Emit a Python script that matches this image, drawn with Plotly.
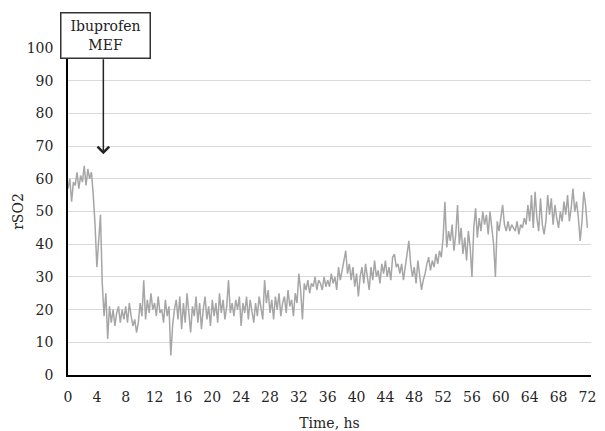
import plotly.graph_objects as go

# rSO2 readings every 15 minutes (hours 0..72)
hours_step = 0.25
rso2 = [
    57, 60, 53, 59,   # 0
    58, 62, 57, 61,   # 1
    59, 64, 58, 63,   # 2
    60, 62, 55, 46,   # 3
    33, 42, 49, 28,   # 4
    18, 25, 11, 21,   # 5
    16, 20, 15, 19,   # 6
    21, 16, 20, 17,   # 7
    21, 16, 22, 18,   # 8
    15, 17, 13, 16,   # 9
    22, 18, 29, 17,   # 10
    23, 19, 25, 20,   # 11
    22, 18, 24, 19,   # 12
    20, 16, 23, 18,   # 13
    21, 6, 15, 20,    # 14
    23, 17, 24, 14,   # 15
    22, 16, 25, 19,   # 16
    13, 21, 18, 24,   # 17
    16, 22, 14, 20,   # 18
    24, 17, 21, 15,   # 19
    23, 18, 22, 16,   # 20
    25, 19, 23, 17,   # 21
    21, 29, 19, 22,   # 22
    18, 23, 20, 24,   # 23
    15, 22, 19, 24,   # 24
    17, 23, 20, 16,   # 25
    22, 18, 24, 20,   # 26
    17, 29, 22, 26,   # 27
    19, 23, 17, 24,   # 28
    20, 25, 18, 22,   # 29
    24, 19, 26, 21,   # 30
    23, 18, 25, 22,   # 31
    31, 26, 17, 28,   # 32
    26, 29, 25, 28,   # 33
    27, 30, 26, 29,   # 34
    28, 26, 30, 27,   # 35
    29, 27, 31, 28,   # 36
    30, 26, 33, 29,   # 37
    32, 36, 38, 31,   # 38
    34, 29, 33, 27,   # 39
    31, 24, 30, 33,   # 40
    28, 34, 30, 26,   # 41
    33, 29, 35, 30,   # 42
    32, 28, 34, 31,   # 43
    35, 30, 33, 29,   # 44
    36, 37, 33, 34,   # 45
    31, 34, 29, 33,   # 46
    36, 41, 34, 30,   # 47
    33, 28, 35, 30,   # 48
    26, 29, 31, 34,   # 49
    36, 32, 35, 33,   # 50
    37, 34, 38, 36,   # 51
    42, 53, 39, 44,   # 52
    41, 46, 38, 43,   # 53
    52, 40, 45, 37,   # 54
    42, 35, 44, 39,   # 55
    30, 45, 51, 42,   # 56
    48, 44, 50, 46,   # 57
    49, 43, 50, 45,   # 58
    40, 30, 47, 44,   # 59
    48, 52, 46, 44,   # 60
    47, 44, 46, 45,   # 61
    44, 47, 43, 46,   # 62
    45, 48, 46, 52,   # 63
    47, 55, 45, 56,   # 64
    48, 44, 54, 46,   # 65
    43, 47, 55, 49,   # 66
    54, 46, 52, 48,   # 67
    45, 50, 47, 53,   # 68
    49, 55, 47, 51,   # 69
    57, 50, 53, 48,   # 70
    41, 47, 56, 52,   # 71
    45,               # 72
]
time_h = [i * hours_step for i in range(len(rso2))]

x_ticks = list(range(0, 73, 4))
y_ticks = list(range(0, 101, 10))

event_label = "Ibuprofen<br>MEF"
event_time = 4.9

FONT = "DejaVu Serif"

fig = go.Figure()
fig.add_trace(go.Scatter(
    x=time_h, y=rso2, mode="lines",
    line=dict(color="#a6a6a6", width=1.5),
    hoverinfo="skip", showlegend=False,
))

# page body adds an 8px offset, so the figure is 8px smaller each way
W, H = 597, 423
ML, MR, MT, MB = 60, 14, 40, 56
fig.update_layout(
    width=W, height=H,
    margin=dict(l=ML, r=MR, t=MT, b=MB),
    paper_bgcolor="white", plot_bgcolor="white",
    font=dict(family=FONT, size=14, color="#262626"),
    showlegend=False,
)
fig.update_xaxes(
    range=[0, 72.5], tickmode="array", tickvals=x_ticks,
    ticktext=[str(v) for v in x_ticks],
    showgrid=False, zeroline=False, automargin=False,
    ticklabeloverflow="allow",
    showline=True, linecolor="black", linewidth=1.5,
    ticks="outside", ticklen=8, tickcolor="rgba(0,0,0,0)",
    title=dict(text="Time, hs", standoff=15, font=dict(size=14)),
)
fig.update_yaxes(
    range=[0, 100], tickmode="array", tickvals=y_ticks,
    showgrid=True, gridcolor="#d9d9d9", gridwidth=1,
    zeroline=False, showline=True, linecolor="black", linewidth=1.5,
    automargin=False,
    ticks="outside", ticklen=10, tickcolor="rgba(0,0,0,0)",
    title=dict(text="rSO2", standoff=0, font=dict(size=14)),
)

# arrow from box down to the event time
fig.add_annotation(
    x=event_time, y=67.5, ax=event_time, ay=97,
    xref="x", yref="y", axref="x", ayref="y",
    text="", showarrow=True, arrowhead=4, arrowsize=1.5,
    arrowwidth=1.5, arrowcolor="#222222",
)
# label box
pw = W - ML - MR
ph = H - MT - MB
fig.add_annotation(
    x=(97 - ML) / pw, y=(ph + MT - 27) / ph, xref="paper", yref="paper",
    xanchor="center", yanchor="middle",
    text=event_label, showarrow=False,
    font=dict(family=FONT, size=14, color="#222222"),
    bgcolor="white", bordercolor="#333333", borderwidth=1.5,
    width=86, height=42, borderpad=1,
)

fig.write_html("out.html")
